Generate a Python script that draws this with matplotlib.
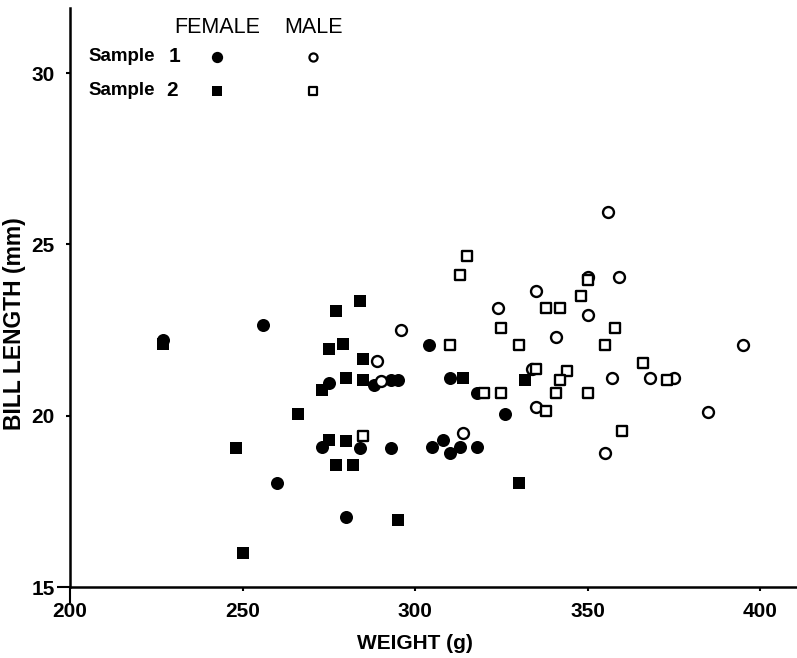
import matplotlib
matplotlib.use("Agg")
import matplotlib.pyplot as plt

plt.rcParams['font.family'] = ['Liberation Sans', 'DejaVu Sans']

# sample 1 females (filled circles)
f1_weight = [227, 256, 275, 260, 273, 280, 284, 293, 305, 308, 310, 313, 318, 326,
             304, 310, 288, 293, 295, 318]
f1_bill = [22.2, 22.65, 20.95, 18.05, 19.1, 17.05, 19.05, 19.05, 19.1, 19.3, 18.9, 19.1, 19.1, 20.05,
           22.05, 21.1, 20.9, 21.05, 21.05, 20.65]

# sample 2 females (filled squares)
f2_weight = [227, 277, 275, 279, 273, 266, 248, 250, 275, 277, 282, 280, 295, 330,
             284, 280, 285, 285, 314, 332]
f2_bill = [22.1, 23.05, 21.95, 22.1, 20.75, 20.05, 19.05, 16.0, 19.3, 18.55, 18.55, 19.25, 16.95, 18.05,
           23.35, 21.1, 21.65, 21.05, 21.1, 21.05]

# sample 1 males (open circles)
m1_weight = [289, 296, 324, 314, 290, 356, 335, 350, 359, 350, 341, 334, 357, 368,
             375, 385, 335, 355, 395]
m1_bill = [21.6, 22.5, 23.15, 19.5, 21.0, 25.95, 23.65, 24.05, 24.05, 22.95, 22.3, 21.35, 21.1, 21.1,
           21.1, 20.1, 20.25, 18.9, 22.05]

# sample 2 males (open squares)
m2_weight = [315, 313, 310, 325, 330, 285, 320, 325, 350, 348, 338, 342, 358, 355,
             366, 335, 344, 342, 341, 350, 338, 360, 373]
m2_bill = [24.65, 24.1, 22.05, 22.55, 22.05, 19.4, 20.65, 20.65, 23.95, 23.5, 23.15, 23.15, 22.55, 22.05,
           21.55, 21.35, 21.3, 21.05, 20.65, 20.65, 20.15, 19.55, 21.05]

x_ticks = [200, 250, 300, 350, 400]
y_ticks = [15, 20, 25, 30]

fig = plt.figure(figsize=(7.97, 6.58), dpi=100)
ax = fig.add_axes([0.0878, 0.1079, 0.9122, 0.88])

ax.scatter(f1_weight, f1_bill, s=88, marker='o', color='black', linewidths=0, zorder=3)
ax.scatter(f2_weight, f2_bill, s=84, marker='s', color='black', linewidths=0, zorder=3)
ax.scatter(m1_weight, m1_bill, s=62, marker='o', facecolors='white', edgecolors='black',
           linewidths=1.7, zorder=3)
ax.scatter(m2_weight, m2_bill, s=54, marker='s', facecolors='white', edgecolors='black',
           linewidths=1.7, zorder=3)

ax.set_xlim(200, 410.7)
ax.set_ylim(15, 31.9)
ax.set_xticks(x_ticks)
ax.set_yticks(y_ticks)

for side in ['top', 'right']:
    ax.spines[side].set_visible(False)
for side in ['left', 'bottom']:
    ax.spines[side].set_linewidth(1.8)

ax.tick_params(direction='out', length=3, width=1.5, labelsize=15, pad=8)
for lab in ax.get_xticklabels() + ax.get_yticklabels():
    lab.set_fontweight('bold')
# the origin ticks run longer in the original
ax.xaxis.get_major_ticks()[0].tick1line.set_markersize(11.5)
ax.yaxis.get_major_ticks()[0].tick1line.set_markersize(9.5)

ax.set_xlabel('WEIGHT (g)', fontsize=15, fontweight='bold')
ax.set_ylabel('BILL LENGTH (mm)', fontsize=16.5, fontweight='bold')
ax.xaxis.set_label_coords(0.475, -0.082)
ax.yaxis.set_label_coords(-0.06, 0.455)

# legend drawn by hand as in the original
ax.text(0.202, 0.9655, 'FEMALE', ha='center', va='center', fontsize=15.5, transform=ax.transAxes)
ax.text(0.3356, 0.9655, 'MALE', ha='center', va='center', fontsize=15.5, transform=ax.transAxes)
ax.text(0.0248, 0.9154, 'Sample', ha='left', va='center', fontsize=13.5, fontweight='bold',
        transform=ax.transAxes)
ax.text(0.0248, 0.8566, 'Sample', ha='left', va='center', fontsize=13.5, fontweight='bold',
        transform=ax.transAxes)
ax.text(0.1444, 0.9164, '1', ha='center', va='center', fontsize=15, fontweight='bold',
        transform=ax.transAxes)
ax.text(0.1410, 0.8576, '2', ha='center', va='center', fontsize=15, fontweight='bold',
        transform=ax.transAxes)
ax.scatter([0.202], [0.9154], s=66, marker='o', color='black', linewidths=0, transform=ax.transAxes)
ax.scatter([0.202], [0.8566], s=56, marker='s', color='black', linewidths=0, transform=ax.transAxes)
ax.scatter([0.334], [0.9154], s=34, marker='o', facecolors='white', edgecolors='black',
           linewidths=1.6, transform=ax.transAxes)
ax.scatter([0.334], [0.8566], s=32, marker='s', facecolors='white', edgecolors='black',
           linewidths=1.6, transform=ax.transAxes)

fig.savefig('out.png', dpi=100)
